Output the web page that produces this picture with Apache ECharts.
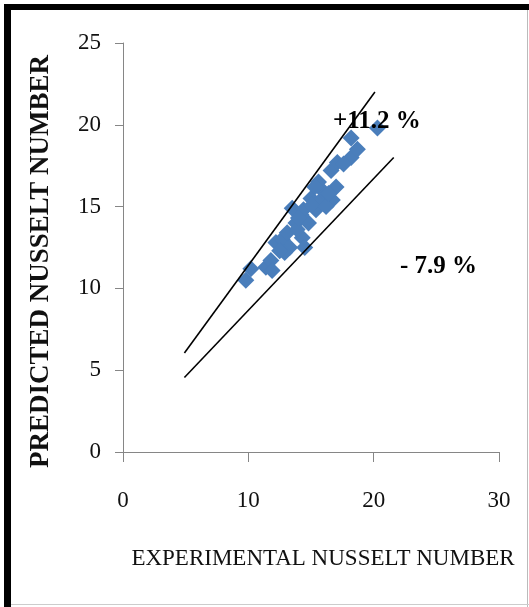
<!DOCTYPE html>
<html>
<head>
<meta charset="utf-8">
<script src="https://cdn.jsdelivr.net/npm/echarts@6/dist/echarts.min.js"></script>
<style>
  html, body { margin: 0; padding: 0; background: #fff; }
  #chart { width: 529px; height: 607px; }
</style>
</head>
<body>
<div id="chart"></div>
<script>
// experimental vs predicted Nusselt number
var expNu  = [9.8, 10.2, 11.4, 11.8, 12.2, 12.7, 13.3, 13.1, 13.8, 14.3, 14.5, 14.8, 15.4, 13.5, 14.2, 15.0, 15.8, 15.9, 15.6, 16.7, 17.0, 16.6, 17.1, 18.2, 18.7, 18.2, 20.3, 14.4, 15.1, 11.9, 12.9, 13.9, 16.2, 15.3, 17.6, 12.5, 14.0, 16.4];
var predNu = [10.5, 11.2, 11.3, 11.7, 12.8, 13.0, 12.5, 13.4, 14.0, 13.1, 12.5, 14.0, 14.8, 14.9, 14.5, 15.5, 15.4, 16.0, 16.5, 15.4, 16.2, 17.2, 17.7, 18.0, 18.5, 19.2, 19.8, 14.8, 15.1, 11.1, 12.2, 13.6, 15.0, 16.2, 17.6, 12.3, 14.3, 15.8];

// error band lines (+11.2 % / -7.9 %)
var upperX = [4.9, 20.1];
var upperY = [6.05, 22.0];
var lowerX = [4.9, 21.6];
var lowerY = [4.55, 18.0];

var xTicks = [0, 10, 20, 30];
var yTicks = [0, 5, 10, 15, 20, 25];

function pairs(xs, ys) {
    var out = [];
    for (var i = 0; i < xs.length; i++) {
        out.push([xs[i], ys[i]]);
    }
    return out;
}

var font = '"Liberation Serif", "Times New Roman", serif';
var myChart = echarts.init(document.getElementById('chart'));

var option = {
    backgroundColor: '#fff',
    animation: false,
    grid: { left: 123, right: 30, top: 43, bottom: 155, outerBoundsMode: 'none', containLabel: false },
    xAxis: {
        type: 'value',
        min: xTicks[0],
        max: xTicks[xTicks.length - 1],
        interval: 10,
        splitLine: { show: false },
        axisLine: { show: true, lineStyle: { color: '#868686', width: 1 } },
        axisTick: { show: true, length: 10, lineStyle: { color: '#868686' } },
        axisLabel: { color: '#111', fontFamily: font, fontSize: 23, margin: 37 },
        name: 'EXPERIMENTAL NUSSELT NUMBER',
        nameLocation: 'middle',
        nameGap: 95,
        nameTextStyle: { color: '#111', fontFamily: font, fontSize: 23, padding: [0, 0, 0, 24] }
    },
    yAxis: {
        type: 'value',
        min: yTicks[0],
        max: yTicks[yTicks.length - 1],
        interval: 5,
        splitLine: { show: false },
        axisLine: { show: true, lineStyle: { color: '#868686', width: 1 } },
        axisTick: { show: true, length: 8, lineStyle: { color: '#868686' } },
        axisLabel: { color: '#111', fontFamily: font, fontSize: 23, margin: 22 },
        name: 'PREDICTED NUSSELT NUMBER',
        nameLocation: 'middle',
        nameGap: 68,
        nameTextStyle: { color: '#111', fontFamily: font, fontSize: 27, fontWeight: 'bold', padding: [0, 28, 0, 0] }
    },
    series: [
        {
            type: 'line',
            data: pairs(upperX, upperY),
            symbol: 'none',
            lineStyle: { color: '#000', width: 1.6 },
            z: 3
        },
        {
            type: 'line',
            data: pairs(lowerX, lowerY),
            symbol: 'none',
            lineStyle: { color: '#000', width: 1.6 },
            z: 3
        },
        {
            type: 'scatter',
            data: pairs(expNu, predNu),
            symbol: 'diamond',
            symbolSize: [17, 17],
            itemStyle: { color: '#4a7ebb', opacity: 1 },
            z: 2
        }
    ],
    graphic: [
        { type: 'rect', shape: { x: 4, y: 4, width: 525, height: 6 }, style: { fill: '#000' } },
        { type: 'rect', shape: { x: 4, y: 4, width: 7, height: 603 }, style: { fill: '#000' } },
        { type: 'rect', shape: { x: 527, y: 10, width: 1, height: 597 }, style: { fill: '#bbb' } },
        { type: 'rect', shape: { x: 11, y: 604, width: 518, height: 1 }, style: { fill: '#ccc' } },
        {
            type: 'text', left: 333, top: 109, z: 10,
            style: { text: '+11.2 %', font: 'bold 25px ' + font, fill: '#000' }
        },
        {
            type: 'text', left: 400, top: 254, z: 10,
            style: { text: '- 7.9 %', font: 'bold 25px ' + font, fill: '#000' }
        }
    ]
};
myChart.setOption(option);
</script>
</body>
</html>
